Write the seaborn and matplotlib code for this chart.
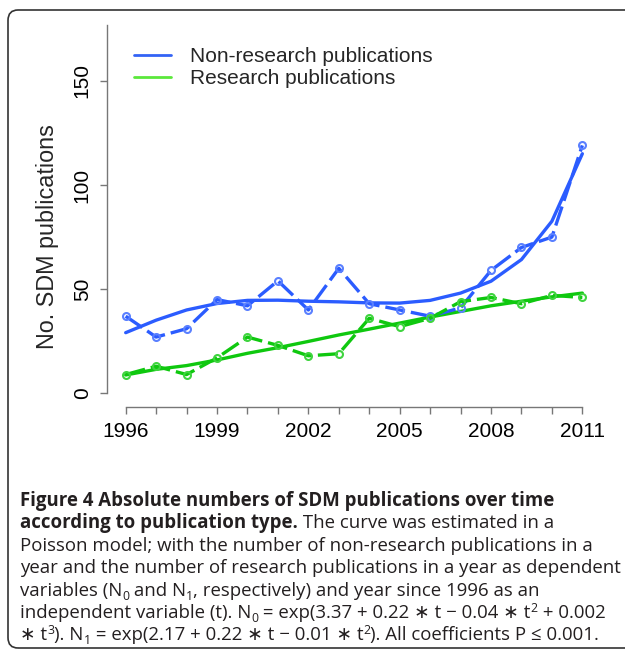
import numpy as np
import pandas as pd
import matplotlib
matplotlib.use("Agg")
import matplotlib.pyplot as plt
from matplotlib.lines import Line2D
from matplotlib.patches import FancyBboxPatch
import seaborn as sns

# ======== data ========
years = list(range(1996, 2012))
non_research = [37, 27, 31, 45, 42, 54, 40, 60, 43, 40, 37, 41, 59, 70, 75, 119]
research = [9, 13, 9, 17, 27, 23, 18, 19, 36, 32, 36, 44, 46, 43, 47, 46]
non_research_fit = [29.1, 35.1, 40.0, 43.1, 44.6, 44.7, 44.2, 43.9, 43.4, 43.3, 44.6, 48.1, 53.8, 64.2, 82.6, 115.0]
research_fit = [8.8, 11.5, 13.3, 16.0, 19.2, 21.9, 24.9, 28.0, 30.8, 33.7, 36.6, 39.3, 42.0, 44.2, 46.3, 48.1]
year_labels = [1996, 1999, 2002, 2005, 2008, 2011]
y_ticks = [0, 50, 100, 150]
legend_labels = ["Non-research publications", "Research publications"]

df = pd.DataFrame({"year": years, "non_research": non_research, "research": research,
                   "non_research_fit": non_research_fit, "research_fit": research_fit})

BLUE = "#2b5cff"
GREEN = "#0fc80f"
W, H = 625, 651

sns.set_style("white")
plt.rcParams["font.family"] = ["Liberation Sans", "DejaVu Sans"]

fig = plt.figure(figsize=(W / 100, H / 100), dpi=100)
ax = fig.add_axes([107 / W, (H - 407) / H, (600 - 107) / W, (407 - 25) / H])

# fitted curves
sns.lineplot(data=df, x="year", y="non_research_fit", ax=ax, color=BLUE, linewidth=2.4)
sns.lineplot(data=df, x="year", y="research_fit", ax=ax, color=GREEN, linewidth=2.4)
# observed counts
sns.lineplot(data=df, x="year", y="non_research", ax=ax, color=BLUE, linewidth=2.4,
             linestyle=(0, (6, 1.8)), marker="o", markersize=5, markerfacecolor="none",
             markeredgecolor="#5a80ff", markeredgewidth=1.5)
sns.lineplot(data=df, x="year", y="research", ax=ax, color=GREEN, linewidth=2.4,
             linestyle=(0, (6, 1.8)), marker="o", markersize=5, markerfacecolor="none",
             markeredgecolor="#3fd43f", markeredgewidth=1.5)

ax.set_xlim(1995.386, 2011.58)
ax.set_ylim(-6.58, 176.8)
for s in ["top", "right"]:
    ax.spines[s].set_visible(False)
ax.spines["left"].set_bounds(0, 176.8)
ax.spines["bottom"].set_bounds(1996, 2011)
for s in ["left", "bottom"]:
    ax.spines[s].set_color("#777777")
    ax.spines[s].set_linewidth(1.0)

ax.set_xticks(years)
ax.set_xticklabels([str(y) if y in year_labels else "" for y in years])
ax.set_yticks(y_ticks)
ax.set_yticklabels([str(v) for v in y_ticks], rotation=90, va="center")
ax.tick_params(axis="both", direction="out", length=5, width=1.0, color="#777777",
               labelsize=15, labelcolor="black")
ax.tick_params(axis="x", pad=6, bottom=True)
ax.tick_params(axis="y", pad=6, left=True)
ax.set_xlabel("")
ax.set_ylabel("No. SDM publications", fontsize=16.8)
ax.yaxis.set_label_coords(-0.097, 0.445)

handles = [Line2D([], [], color="#3363f5", lw=2.0), Line2D([], [], color="#5be83b", lw=2.0)]
ax.legend(handles, legend_labels, loc="upper left", bbox_to_anchor=(134 / W, 1 - 47 / H),
          bbox_transform=fig.transFigure, frameon=False, fontsize=15, handlelength=1.78,
          handletextpad=0.9, borderpad=0, borderaxespad=0, labelspacing=0.15)

# rounded frame around figure + caption
frame = FancyBboxPatch((8 / W, 3 / H), 660 / W, (641 - 3) / H,
                       boxstyle="round,pad=0,rounding_size=0.016", transform=fig.transFigure,
                       fill=False, edgecolor="#333333", linewidth=1.2)
fig.patches.append(frame)

# ======== caption ========
cap_family = ["Open Sans", "DejaVu Sans"]
cap_size = 13.4
renderer = fig.canvas.get_renderer()


def write_line(x, y, parts):
    for txt, kind in parts:
        fs = cap_size * 0.66 if kind in ("sub", "sup") else cap_size
        dy = {"sub": -4.0, "sup": 6.5}.get(kind, 0)
        t = fig.text(x / W, 1 - (y - dy) / H, txt, fontsize=fs, family=cap_family,
                     fontweight="bold" if kind == "b" else "normal", color="#231f20",
                     ha="left", va="baseline")
        x = t.get_window_extent(renderer).x1


caption = [
    [("Figure 4 Absolute numbers of SDM publications over time", "b")],
    [("according to publication type.", "b"), (" The curve was estimated in a", "n")],
    [("Poisson model; with the number of non-research publications in a", "n")],
    [("year and the number of research publications in a year as dependent", "n")],
    [("variables (N", "n"), ("0", "sub"), (" and N", "n"), ("1", "sub"),
     (", respectively) and year since 1996 as an", "n")],
    [("independent variable (t). N", "n"), ("0", "sub"),
     (" = exp(3.37 + 0.22 \u2217 t \u2212 0.04 \u2217 t", "n"), ("2", "sup"), (" + 0.002", "n")],
    [("\u2217 t", "n"), ("3", "sup"), ("). N", "n"), ("1", "sub"),
     (" = exp(2.17 + 0.22 \u2217 t \u2212 0.01 \u2217 t", "n"), ("2", "sup"),
     ("). All coefficients P \u2264 0.001.", "n")],
]
for i, parts in enumerate(caption):
    write_line(20, 506 + i * 22.4, parts)

fig.savefig("out.png", dpi=100)
